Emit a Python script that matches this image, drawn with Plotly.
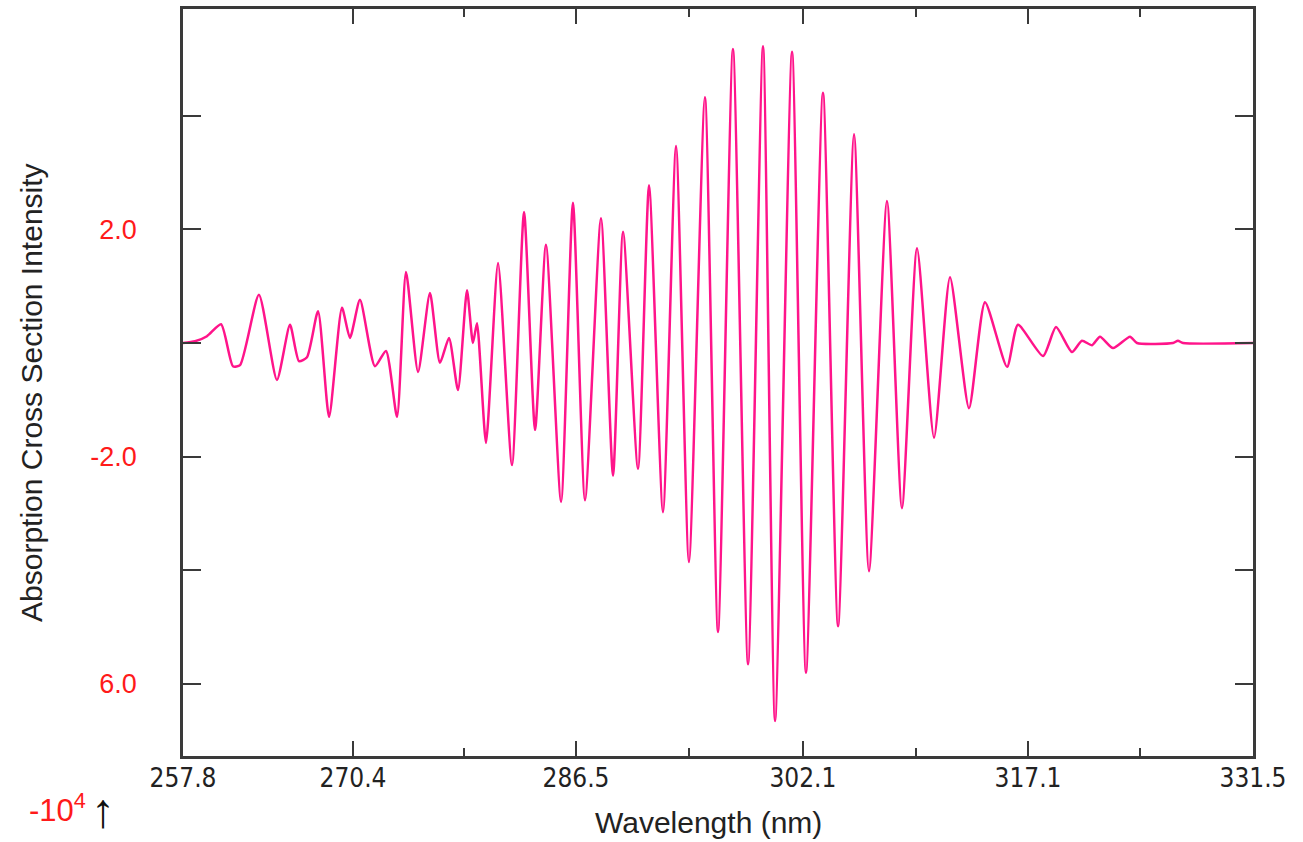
import plotly.graph_objects as go

# Wavelength (nm) of each turning point of the trace
wavelength = [257.80, 258.63, 259.45, 260.42, 261.24, 261.73, 263.03, 264.27, 265.17, 265.79,
              266.34, 267.10, 267.86, 268.75, 269.30, 269.99, 271.02, 271.78, 272.54, 273.16,
              273.99, 274.81, 275.50, 276.12, 276.74, 277.36, 277.77, 278.05, 278.67, 279.50,
              280.46, 281.29, 282.05, 282.80, 283.84, 284.66, 285.49, 286.59, 287.42, 288.11,
              289.14, 289.90, 290.86, 291.76, 292.65, 293.75, 294.65, 295.68, 296.72, 297.75,
              298.58, 299.75, 300.71, 301.88, 302.92, 304.02, 305.05, 306.29, 307.32, 308.36,
              309.53, 310.63, 311.94, 313.04, 314.56, 315.31, 317.04, 317.93, 319.03, 319.72,
              320.41, 320.96, 321.86, 323.03, 323.51, 325.99, 326.33, 326.68, 331.50]

# Intensity (x 10^4) at each turning point
intensity = [0.00, 0.03, 0.12, 0.33, -0.41, -0.39, 0.85, -0.65, 0.32, -0.32,
             -0.25, 0.56, -1.30, 0.62, 0.09, 0.76, -0.41, -0.14, -1.30, 1.25,
             -0.51, 0.88, -0.35, 0.09, -0.83, 0.93, 0.00, 0.35, -1.76, 1.41,
             -2.15, 2.31, -1.53, 1.73, -2.80, 2.47, -2.77, 2.20, -2.34, 1.96,
             -2.22, 2.78, -2.98, 3.47, -3.86, 4.33, -5.09, 5.18, -5.66, 5.23,
             -6.66, 5.13, -5.81, 4.41, -4.99, 3.68, -4.02, 2.50, -2.91, 1.67,
             -1.67, 1.16, -1.15, 0.72, -0.42, 0.32, -0.23, 0.28, -0.16, 0.04,
             -0.04, 0.11, -0.09, 0.11, 0.00, 0.00, 0.04, 0.00, 0.00]

# Axis ticks as shown on the chart
x_tick_vals = [257.8, 269.51, 284.87, 300.50, 316.00, 331.5]
x_tick_text = ["257.8", "270.4", "286.5", "302.1", "317.1", "331.5"]
x_minor_vals = [277.15, 292.65, 308.29, 323.72]
y_tick_vals = [4, 2, 0, -2, -4, -6]
y_tick_text = [" ", "2.0", " ", "-2.0", " ", "6.0"]

AXIS = "#3a3a3a"

fig = go.Figure()
fig.add_trace(go.Scatter(
    x=wavelength, y=intensity, mode="lines",
    line=dict(color="#ff148a", width=2.5, shape="spline", smoothing=0.6),
    hoverinfo="skip", showlegend=False,
))

fig.update_layout(
    width=1303, height=842,
    margin=dict(l=183, r=50, t=9, b=86, autoexpand=False),
    paper_bgcolor="white", plot_bgcolor="white",
    showlegend=False,
)

fig.update_xaxes(
    range=[257.8, 331.5], showgrid=False, zeroline=False,
    showline=True, linecolor=AXIS, linewidth=2.5, mirror="ticks",
    tickmode="array", tickvals=x_tick_vals, ticktext=x_tick_text,
    ticks="inside", ticklen=15, tickwidth=2, tickcolor=AXIS,
    tickfont=dict(family="Liberation Sans Narrow, DejaVu Sans Condensed, Arial Narrow, sans-serif",
                  size=26, color="#222222"),
    ticklabelstandoff=-3,
    minor=dict(tickmode="array", tickvals=x_minor_vals, ticks="inside",
               ticklen=8, tickwidth=2, tickcolor=AXIS),
)

fig.update_yaxes(
    range=[-7.277, 5.885], showgrid=False, zeroline=False,
    showline=True, linecolor=AXIS, linewidth=2.5, mirror="ticks",
    tickmode="array", tickvals=y_tick_vals, ticktext=y_tick_text,
    ticks="inside", ticklen=18, tickwidth=2, tickcolor=AXIS,
    tickfont=dict(family="Liberation Sans, Arial, sans-serif", size=27, color="#ff1a1a"),
    ticklabelstandoff=38,
)

fig.add_annotation(
    text="Wavelength (nm)", xref="paper", yref="paper",
    x=0.4907, y=-0.0884, xanchor="center", yanchor="middle", showarrow=False,
    font=dict(family="Liberation Sans, Arial, sans-serif", size=30, color="#222222"),
)
fig.add_annotation(
    text="Absorption Cross Section Intensity", xref="paper", yref="paper",
    x=-0.1411, y=0.486, xanchor="center", yanchor="middle", showarrow=False, textangle=-90,
    font=dict(family="Liberation Sans, Arial, sans-serif", size=30, color="#222222"),
)
fig.add_annotation(
    text="-10<sup>4</sup>", xref="paper", yref="paper",
    x=(57 - 183) / 1070, y=(756 - 808) / 747, xanchor="center", yanchor="middle",
    showarrow=False,
    font=dict(family="Liberation Sans, Arial, sans-serif", size=31, color="#ff1a1a"),
)
fig.add_annotation(
    text="↑", xref="paper", yref="paper",
    x=(103 - 183) / 1070, y=(756 - 810) / 747, xanchor="center", yanchor="middle",
    showarrow=False,
    font=dict(family="Liberation Sans, DejaVu Sans, sans-serif", size=48, color="#111111"),
)

fig.write_html("out.html")
